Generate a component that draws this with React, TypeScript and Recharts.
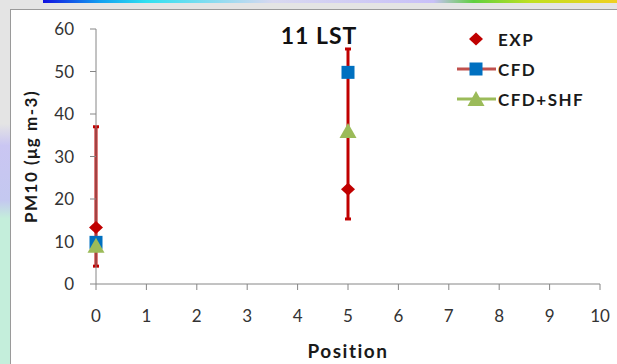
import { ScatterChart, Scatter, XAxis, YAxis, ErrorBar, Legend } from "recharts";

const positions = [0, 5];
const expValues = [13.3, 22.3];
const expLow = [4.2, 15.3];
const expHigh = [37, 55.3];
const cfdValues = [9.8, 49.8];
const cfdShfValues = [9, 36];
const xTicks = [0, 1, 2, 3, 4, 5, 6, 7, 8, 9, 10];
const yTicks = [0, 10, 20, 30, 40, 50, 60];

const RED = "#c00000";
const BLUE = "#0070c0";
const GREEN = "#9bbb59";
const LINE_RED = "#c0504d";
const AXIS = "#868686";
const FONT = "Lato, 'Liberation Sans', sans-serif";

const expData = positions.map((x, i) => ({
  x,
  y: expValues[i],
  err: [expValues[i] - expLow[i], expHigh[i] - expValues[i]],
}));
const cfdData = positions.map((x, i) => ({ x, y: cfdValues[i] }));
const shfData = positions.map((x, i) => ({ x, y: cfdShfValues[i] }));

const diamond = (cx: number, cy: number) =>
  `M${cx},${cy - 6.5}L${cx + 7},${cy}L${cx},${cy + 6.5}L${cx - 7},${cy}Z`;
const triangle = (cx: number, cy: number) =>
  `M${cx},${cy - 8}L${cx + 8.5},${cy + 7}L${cx - 8.5},${cy + 7}Z`;

function DiamondShape({ cx, cy }: any) {
  return <path d={diamond(cx, cy)} fill={RED} />;
}
function SquareShape({ cx, cy }: any) {
  return <rect x={cx - 6.5} y={cy - 6.5} width={13} height={13} fill={BLUE} />;
}
function TriangleShape({ cx, cy }: any) {
  return <path d={triangle(cx, cy)} fill={GREEN} />;
}

function LegendContent() {
  const rows = [
    { name: "EXP", line: null, icon: <path d={diamond(20, 10)} fill={RED} /> },
    {
      name: "CFD",
      line: LINE_RED,
      icon: <rect x={13.5} y={3.5} width={13} height={13} fill={BLUE} />,
    },
    { name: "CFD+SHF", line: GREEN, icon: <path d={triangle(20, 10)} fill={GREEN} /> },
  ];
  return (
    <div style={{ fontFamily: FONT }}>
      {rows.map((r) => (
        <div key={r.name} style={{ display: "flex", alignItems: "center", height: 30 }}>
          <svg width={41} height={20}>
            {r.line && <line x1={1} y1={10} x2={40} y2={10} stroke={r.line} strokeWidth={3} />}
            {r.icon}
          </svg>
          <span
            style={{
              fontSize: 17,
              fontWeight: 700,
              color: "#1a1a1a",
              marginLeft: 1,
              letterSpacing: 1.5,
            }}
          >
            {r.name}
          </span>
        </div>
      ))}
    </div>
  );
}

function YLabel({ viewBox }: any) {
  const x = viewBox.x + 30;
  const y = viewBox.y + viewBox.height / 2;
  return (
    <text
      x={x}
      y={y}
      transform={`rotate(-90 ${x} ${y})`}
      textAnchor="middle"
      dominantBaseline="central"
      fontFamily={FONT}
      fontSize={17}
      fontWeight={700}
      letterSpacing={1.5}
      fill="#1a1a1a"
    >
      PM10 (μg m-3)
    </text>
  );
}

export default function App() {
  return (
    <div
      style={{
        position: "absolute",
        left: 0,
        top: 0,
        width: 617,
        height: 364,
        overflow: "hidden",
        background: "#e4e4e4",
      }}
    >
      {/* slide background bits */}
      <div
        style={{
          position: "absolute",
          left: 43,
          top: 0,
          width: 574,
          height: 3,
          background:
            "linear-gradient(90deg, #1010e0 0%, #10a0f0 10%, #30e0f0 18%, #d8d8f0 40%, #c8c0f8 68%, #60d040 75%, #c0e020 85%, #f0d020 100%)",
        }}
      />
      <div
        style={{
          position: "absolute",
          left: 0,
          top: 0,
          width: 11,
          height: 364,
          background:
            "linear-gradient(180deg, #e4e4e4 0%, #e4e4e4 34%, #cac6f2 40%, #c4c8f0 55%, #c4eedb 60%, #c4eedb 100%)",
        }}
      />
      <div
        style={{
          position: "absolute",
          left: 10,
          top: 9,
          width: 620,
          height: 370,
          background: "#ffffff",
          borderLeft: "1px solid #9a9a9a",
          borderTop: "1px solid #9a9a9a",
        }}
      />
      <div
        style={{
          position: "absolute",
          left: 259,
          top: 21,
          width: 120,
          textAlign: "center",
          fontFamily: FONT,
          fontSize: 23,
          fontWeight: 700,
          letterSpacing: 1,
          color: "#111",
          lineHeight: "28px",
        }}
      >
        11 LST
      </div>
      <div style={{ position: "absolute", left: 0, top: 0 }}>
        <ScatterChart width={617} height={364} margin={{ top: 29, right: 17, bottom: 0, left: 0 }}>
          <XAxis
            type="number"
            dataKey="x"
            domain={[0, 10]}
            ticks={xTicks}
            interval={0}
            height={80}
            stroke={AXIS}
            tickSize={6}
            tickMargin={20}
            tick={{ fill: "#333", fontSize: 17, fontFamily: FONT }}
            label={{
              value: "Position",
              position: "insideBottom",
              offset: 6,
              fill: "#1a1a1a",
              fontSize: 19,
              fontWeight: 700,
              fontFamily: FONT,
              letterSpacing: 1.5,
            }}
          />
          <YAxis
            type="number"
            dataKey="y"
            domain={[0, 60]}
            ticks={yTicks}
            interval={0}
            width={96}
            stroke={AXIS}
            tickSize={6}
            tickMargin={16}
            tick={{ fill: "#333", fontSize: 17, fontFamily: FONT }}
            label={{ content: YLabel }}
          />
          <Legend
            layout="vertical"
            align="center"
            verticalAlign="middle"
            wrapperStyle={{ left: 456, top: 24, width: 160 }}
            content={LegendContent}
          />
          <Scatter name="EXP" data={expData} shape={DiamondShape} isAnimationActive={false}>
            <ErrorBar dataKey="err" direction="y" width={3} strokeWidth={3} stroke={RED} />
          </Scatter>
          <Scatter name="CFD" data={cfdData} shape={SquareShape} isAnimationActive={false} />
          <Scatter name="CFD+SHF" data={shfData} shape={TriangleShape} isAnimationActive={false} />
        </ScatterChart>
      </div>
    </div>
  );
}
